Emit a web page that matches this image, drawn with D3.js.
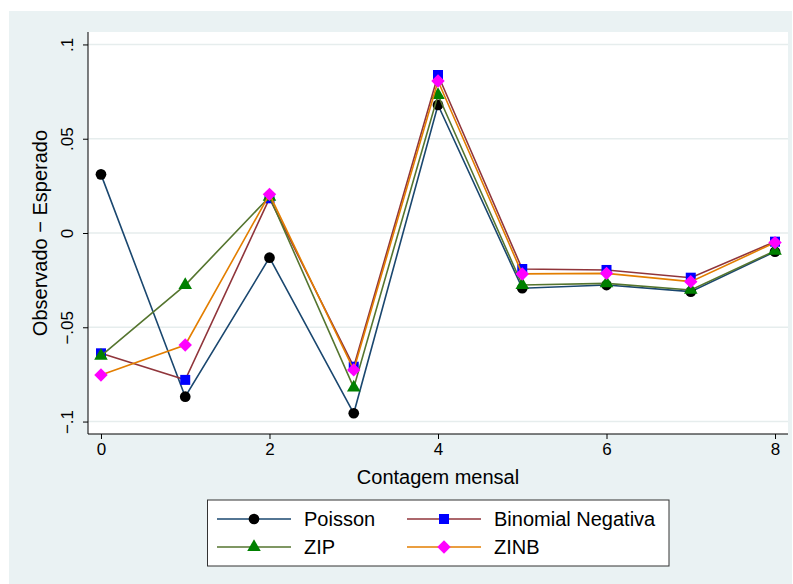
<!DOCTYPE html>
<html>
<head>
    <meta charset="utf-8">
    <title>Observado - Esperado</title>
    <style>
        body { margin: 0; background: #fff; }
        svg { display: block; font-family: "Liberation Sans", Arial, sans-serif; }
    </style>
</head>
<body>
    <svg width="793" height="584"></svg>

    <script src="https://cdn.jsdelivr.net/npm/d3@7/dist/d3.min.js"></script>
    <script>

    var counts = [0, 1, 2, 3, 4, 5, 6, 7, 8];
    var poisson = [0.0311, -0.0868, -0.0131, -0.0956, 0.0679, -0.0293, -0.0276, -0.0311, -0.0099];
    var binNeg  = [-0.0638, -0.0779, 0.0184, -0.0709, 0.0838, -0.0191, -0.0196, -0.0237, -0.0046];
    var zip     = [-0.0652, -0.0276, 0.0192, -0.0820, 0.0732, -0.0276, -0.0267, -0.0302, -0.0094];
    var zinb    = [-0.0753, -0.0594, 0.0205, -0.0726, 0.0806, -0.0217, -0.0214, -0.0258, -0.0051];

    var seriesNames = ["Poisson", "Binomial Negativa", "ZIP", "ZINB"];
    var xTicks = [0, 2, 4, 6, 8];
    var yTicks = [0.1, 0.05, 0, -0.05, -0.1];
    var yTickLabels = [".1", ".05", "0", "\u2212.05", "\u2212.1"];

    var svg = d3.select("svg"),
        width = +svg.attr("width"),
        height = +svg.attr("height");

    var plot = {left: 88, right: 788, top: 32, bottom: 434};

    var x = d3.scaleLinear().domain([-0.154, 8.154]).range([plot.left, plot.right]),
        y = d3.scaleLinear().domain([-0.1066, 0.1066]).range([plot.bottom, plot.top]);

    var series = [
        {name: seriesNames[0], values: poisson, line: "#1a476f", fill: "#000000", shape: "circle"},
        {name: seriesNames[1], values: binNeg,  line: "#90353b", fill: "#0000ff", shape: "square"},
        {name: seriesNames[2], values: zip,     line: "#55752f", fill: "#008000", shape: "triangle"},
        {name: seriesNames[3], values: zinb,    line: "#e37e00", fill: "#ff00ff", shape: "diamond"}
    ];

    var symbols = {
        circle: d3.symbol().type(d3.symbolCircle).size(90),
        square: d3.symbol().type(d3.symbolSquare).size(100),
        triangle: d3.symbol().type(d3.symbolTriangle).size(80),
        diamond: d3.symbol().type(d3.symbolSquare).size(90)
    };

    // graph region + plot region
    svg.append("rect")
        .attr("x", 9).attr("y", 11)
        .attr("width", 783).attr("height", height - 11)
        .attr("fill", "#eaf2f3");

    svg.append("rect")
        .attr("x", plot.left).attr("y", plot.top)
        .attr("width", plot.right - plot.left).attr("height", plot.bottom - plot.top)
        .attr("fill", "#fff");

    // gridlines
    svg.append("g")
        .selectAll("line")
        .data(yTicks)
        .join("line")
        .attr("x1", plot.left).attr("x2", plot.right)
        .attr("y1", function(d) { return y(d); })
        .attr("y2", function(d) { return y(d); })
        .attr("stroke", "#e6eded")
        .attr("stroke-width", 1.5);

    // axes
    var yAxis = d3.axisLeft(y)
        .tickValues(yTicks)
        .tickSize(5)
        .tickPadding(0)
        .tickFormat(function(d, i) { return yTickLabels[i]; });

    var gy = svg.append("g")
        .attr("transform", "translate(" + plot.left + ",0)")
        .call(yAxis);

    gy.select(".domain").attr("d", "M0," + plot.top + "V" + plot.bottom);
    gy.selectAll(".tick line").attr("stroke", "#000");
    gy.selectAll(".tick text")
        .attr("x", null).attr("dy", null)
        .attr("transform", "translate(-15,0) rotate(-90)")
        .attr("text-anchor", "middle")
        .attr("fill", "#000")
        .style("font-size", "17px");

    var xAxis = d3.axisBottom(x)
        .tickValues(xTicks)
        .tickSize(5)
        .tickPadding(4)
        .tickFormat(d3.format("d"));

    var gx = svg.append("g")
        .attr("transform", "translate(0," + plot.bottom + ")")
        .call(xAxis);

    gx.select(".domain").attr("d", "M" + plot.left + ",0H" + plot.right);
    gx.selectAll(".tick line").attr("stroke", "#000");
    gx.selectAll(".tick text")
        .attr("fill", "#000")
        .style("font-size", "17px");

    svg.selectAll(".domain").attr("stroke", "#000");

    // axis titles
    svg.append("text")
        .attr("transform", "translate(47," + ((plot.top + plot.bottom) / 2) + ") rotate(-90)")
        .attr("text-anchor", "middle")
        .style("font-size", "20px")
        .text("Observado \u2212 Esperado");

    svg.append("text")
        .attr("x", (plot.left + plot.right) / 2)
        .attr("y", 484)
        .attr("text-anchor", "middle")
        .style("font-size", "20px")
        .text("Contagem mensal");

    // series: line then markers, one series at a time
    var line = d3.line()
        .x(function(d, i) { return x(counts[i]); })
        .y(function(d) { return y(d); });

    function marker(sel, s) {
        sel.attr("d", symbols[s.shape]())
            .attr("fill", s.fill)
            .attr("stroke", "none");
    }

    series.forEach(function(s) {
        var g = svg.append("g");
        g.append("path")
            .datum(s.values)
            .attr("d", line)
            .attr("fill", "none")
            .attr("stroke", s.line)
            .attr("stroke-width", 1.6);

        g.selectAll("path.pt")
            .data(s.values)
            .join("path")
            .attr("class", "pt")
            .call(marker, s)
            .attr("transform", function(d, i) {
                return "translate(" + x(counts[i]) + "," + y(d) + ")" +
                    (s.shape === "diamond" ? " rotate(45)" : "");
            });
    });

    // legend
    var legend = svg.append("g");
    legend.append("rect")
        .attr("x", 207.5).attr("y", 500)
        .attr("width", 461.5).attr("height", 66)
        .attr("fill", "#fff")
        .attr("stroke", "#333")
        .attr("stroke-width", 1);

    var keyPos = [[217, 519], [407, 519], [217, 547], [407, 547]];

    series.forEach(function(s, i) {
        var kx = keyPos[i][0], ky = keyPos[i][1];
        var k = legend.append("g").attr("transform", "translate(" + kx + "," + ky + ")");
        k.append("line")
            .attr("x1", 0).attr("x2", 74)
            .attr("y1", 0).attr("y2", 0)
            .attr("stroke", s.line)
            .attr("stroke-width", 1.6);
        k.append("path")
            .call(marker, s)
            .attr("transform", "translate(37,0)" + (s.shape === "diamond" ? " rotate(45)" : ""));
        k.append("text")
            .attr("x", 87)
            .attr("y", 7)
            .style("font-size", "20px")
            .text(s.name);
    });

    </script>
</body>
</html>
